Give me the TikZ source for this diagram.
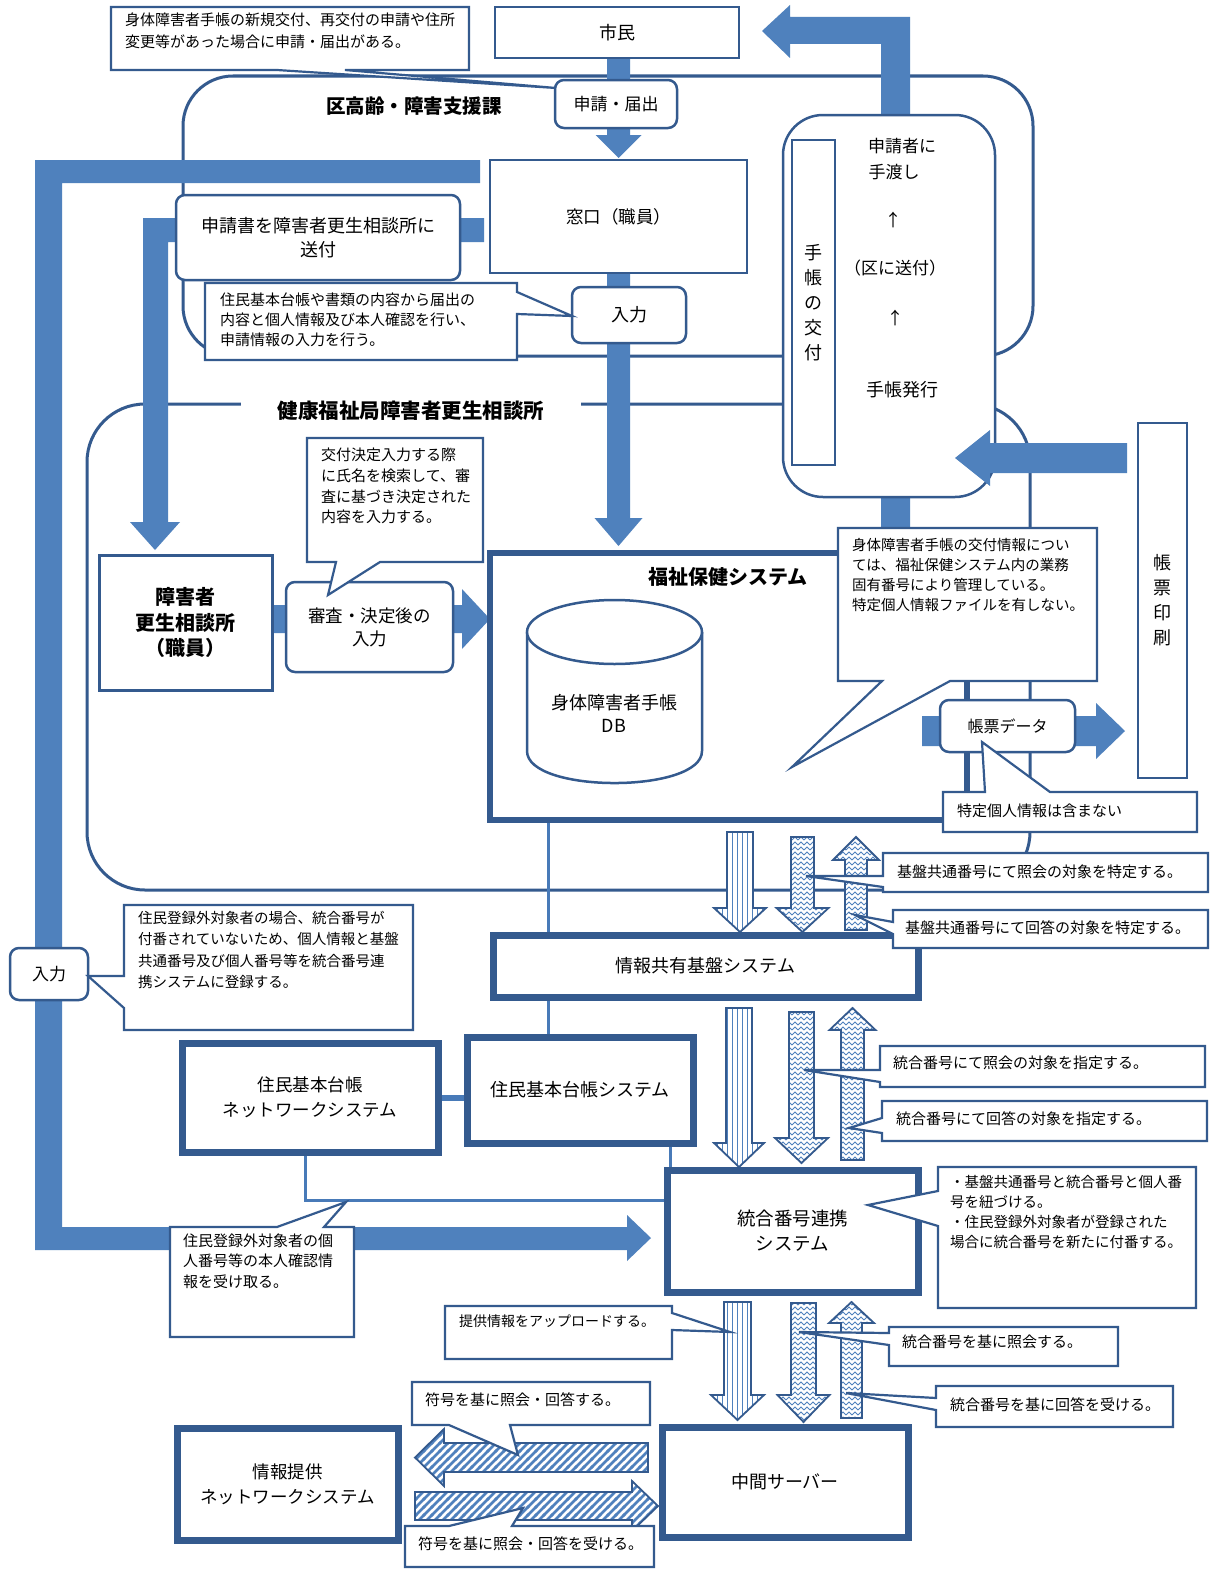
\documentclass[tikz,border=0pt]{standalone}
\usepackage{fontspec}
\setmainfont{Noto Sans CJK JP}
\usetikzlibrary{patterns}
\definecolor{bd}{RGB}{52,90,142}
\definecolor{ab}{RGB}{79,129,189}
\definecolor{ln}{RGB}{72,122,184}
\pgfdeclarepatternformonly{vstripes}{\pgfqpoint{-1pt}{-1pt}}{\pgfqpoint{6pt}{6pt}}{\pgfqpoint{5pt}{5pt}}{\pgfsetlinewidth{1.7pt}\pgfpathmoveto{\pgfqpoint{2.5pt}{-1pt}}\pgfpathlineto{\pgfqpoint{2.5pt}{6pt}}\pgfusepath{stroke}}
\pgfdeclarepatternformonly{dstripes}{\pgfqpoint{-2pt}{-2pt}}{\pgfqpoint{10pt}{10pt}}{\pgfqpoint{8pt}{8pt}}{\pgfsetlinewidth{2.6pt}\pgfpathmoveto{\pgfqpoint{-1pt}{-1pt}}\pgfpathlineto{\pgfqpoint{9pt}{9pt}}\pgfusepath{stroke}}
\pgfdeclarepatternformonly{wavy}{\pgfqpoint{-1pt}{-1pt}}{\pgfqpoint{7pt}{6pt}}{\pgfqpoint{6pt}{5pt}}{\pgfsetlinewidth{0.9pt}\pgfpathmoveto{\pgfqpoint{0pt}{1pt}}\pgfpathlineto{\pgfqpoint{3pt}{4pt}}\pgfpathlineto{\pgfqpoint{6pt}{1pt}}\pgfusepath{stroke}}
\newcommand\fsz[2]{\fontsize{#1}{#2}\selectfont}
% vertical block arrow: style, cx, half shaft, y start, y head base, y tip, half head
\newcommand\arrV[7]{\path[#1] ({#2-#3},#4) -- ({#2+#3},#4) -- ({#2+#3},#5) -- ({#2+#7},#5) -- (#2,#6) -- ({#2-#7},#5) -- ({#2-#3},#5) -- cycle;}
% horizontal block arrow: style, cy, half shaft, x start, x head base, x tip, half head
\newcommand\arrH[7]{\path[#1] (#4,{#2-#3}) -- (#5,{#2-#3}) -- (#5,{#2-#7}) -- (#6,#2) -- (#5,{#2+#7}) -- (#5,{#2+#3}) -- (#4,{#2+#3}) -- cycle;}
% callouts: x1,y1,x2,y2, a, b, tipx, tipy
\newcommand\callB[8]{\draw[co] (#1,#2) -- (#3,#2) -- (#3,#4) -- (#6,#4) -- (#7,#8) -- (#5,#4) -- (#1,#4) -- cycle;}
\newcommand\callT[8]{\draw[co] (#1,#2) -- (#5,#2) -- (#7,#8) -- (#6,#2) -- (#3,#2) -- (#3,#4) -- (#1,#4) -- cycle;}
\newcommand\callL[8]{\draw[co] (#1,#2) -- (#3,#2) -- (#3,#4) -- (#1,#4) -- (#1,#6) -- (#7,#8) -- (#1,#5) -- cycle;}
\newcommand\callR[8]{\draw[co] (#1,#2) -- (#3,#2) -- (#3,#5) -- (#7,#8) -- (#3,#6) -- (#3,#4) -- (#1,#4) -- cycle;}
\tikzset{
 bx/.style={draw=bd, line width=2.5pt, fill=white, align=center, inner sep=0pt, font=\fsz{18}{24}},
 rbx/.style={bx, rounded corners=9pt},
 sys/.style={bx, line width=7pt},
 co/.style={draw=bd, line width=2.2pt, fill=white, line join=miter},
 ct/.style={align=left, inner sep=0pt, anchor=west, font=\fsz{15}{20}},
 sarrow/.style={fill=ab},
 vpat/.style={draw=bd, line width=1.8pt, preaction={fill=white}, pattern=vstripes, pattern color=ab},
 wpat/.style={draw=bd, line width=1.8pt, preaction={fill=white}, pattern=wavy, pattern color=ab},
 dpat/.style={draw=bd, line width=1.8pt, preaction={fill=white}, pattern=dstripes, pattern color=ab},
 kframe/.style={draw=bd, line width=3pt},
 conn/.style={draw=ln, line width=3pt},
 tt/.style={inner sep=0pt, font=\fsz{17}{20}},
}
\begin{document}
\begin{tikzpicture}[x=1pt,y=-1pt]
\useasboundingbox (0,0) rectangle (1210,1571);
\fill[white] (0,0) rectangle (1210,1571);
% department frames
\draw[kframe, rounded corners=50pt] (183,76) rectangle (1033,356);
\draw[kframe, rounded corners=58pt] (87,404) rectangle (1030,890);
% solid arrows behind boxes
\arrV{sarrow}{618.5}{11.5}{58}{135}{158}{23}
\arrV{sarrow}{618.5}{11.5}{273}{518}{546}{24}
\path[sarrow] (480,160) -- (35,160) -- (35,1250) -- (627,1250) -- (627,1261) -- (651,1238) -- (627,1215) -- (627,1227) -- (62,1227) -- (62,183) -- (480,183) -- cycle;
\path[sarrow] (484,218) -- (143,218) -- (143,522) -- (130,522) -- (155,550) -- (180,522) -- (168,522) -- (168,242) -- (484,242) -- cycle;
\path[sarrow] (881,540) -- (881,44) -- (790,44) -- (790,58) -- (762,31) -- (790,5) -- (790,17) -- (910,17) -- (910,540) -- cycle;
\arrH{sarrow}{619}{14}{272}{462}{490}{30}
% boxes
\node[bx, minimum width=244pt, minimum height=51pt] (shimin) at (617,32.5) {市民};
\node[rbx, minimum width=122pt, minimum height=48pt, font=\fsz{17}{20}] (shinsei) at (616,104) {申請・届出};
\node[bx, minimum width=257pt, minimum height=113pt, font=\fsz{17.5}{20}] (madoguchi) at (618.5,216.5) {窓口（職員）};
\node[rbx, minimum width=114pt, minimum height=56pt] (nyu1) at (629,315) {入力};
\node[rbx, minimum width=284pt, minimum height=85pt] (sofu) at (318,237.5) {申請書を障害者更生相談所に\\送付};
\node[bx, rounded corners=40pt, minimum width=212pt, minimum height=382pt] (techo) at (889,306) {};
\node[bx, minimum width=43pt, minimum height=325pt, font=\fsz{18}{25}] (kofu) at (813.5,302.5) {手\\帳\\の\\交\\付};
\node[tt] (t1) at (902,146) {申請者に};
\node[tt] (t2) at (894,172) {手渡し};
\node[tt] (t3) at (893,220) {↑};
\node[tt] (t4) at (895,268) {（区に送付）};
\node[tt] (t5) at (895,318) {↑};
\node[tt, font=\fsz{18}{20}] (t6) at (902,390) {手帳発行};
\node[bx, minimum width=49pt, minimum height=355pt, font=\fsz{18}{25}] (insatsu) at (1162.5,600.5) {帳\\票\\印\\刷};
\node[bx, line width=3pt, minimum width=173pt, minimum height=135pt, font=\bfseries\fsz{20}{25.5}] (shogai) at (185.5,622.5) {障害者\\更生相談所\\（職員）};
\node[rbx, minimum width=167pt, minimum height=90pt, font=\fsz{17.5}{23}] (shinsa) at (369.5,627) {審査・決定後の\\入力};
\node[sys, line width=6pt, minimum width=477pt, minimum height=267pt] (fukushi) at (728.5,686.5) {};
\node[inner sep=0pt, font=\bfseries\fsz{20}{24}] (fktitle) at (728,577) {福祉保健システム};
% database cylinder
\filldraw[fill=white, draw=bd, line width=2.5pt] (527,632) -- (527,751) .. controls (527,793.7) and (702,793.7) .. (702,751) -- (702,632);
\draw[fill=white, draw=bd, line width=2.5pt] (614.5,632) ellipse [x radius=87.5, y radius=32];
\node[inner sep=0pt, align=center, font=\fsz{18}{23}] (db) at (614,713.5) {身体障害者手帳\\DB};
\node[sys, minimum width=425pt, minimum height=62pt] (jokyo) at (705.5,966) {情報共有基盤システム};
\node[rbx, minimum width=78pt, minimum height=52pt, font=\fsz{17}{20}] (nyu2) at (49,974) {入力};
\node[sys, minimum width=256pt, minimum height=109pt, font=\fsz{17.5}{25}] (jukinet) at (310,1097.5) {住民基本台帳\\ネットワークシステム};
\node[sys, minimum width=226pt, minimum height=106pt] (jumin) at (580,1090) {住民基本台帳システム};
\node[sys, minimum width=251pt, minimum height=122pt, font=\fsz{18.5}{25}] (togo) at (792.5,1231) {統合番号連携\\システム};
\node[sys, minimum width=246pt, minimum height=110pt] (chukan) at (785,1482) {中間サーバー};
\node[sys, minimum width=221pt, minimum height=112pt, font=\fsz{17.5}{25}] (jtnet) at (287.5,1484) {情報提供\\ネットワークシステム};
% arrows over boxes
\arrH{sarrow}{458}{15}{1127}{990}{955}{28}
\arrH{sarrow}{731}{15}{922}{1096}{1125}{28}
\node[rbx, minimum width=135pt, minimum height=52pt, font=\fsz{16}{20}] (chodata) at (1007.5,726) {帳票データ};
% thin connectors
\coordinate (cL) at (548,0);
\draw[conn] (fukushi.south -| cL) -- (jokyo.north -| cL);
\draw[conn] (jokyo.south -| cL) -- (jumin.north -| cL);
\draw[conn, line width=6pt] (jukinet.east) -- (jukinet.east -| jumin.west);
\coordinate (cM) at (305,1200);
\draw[conn] (jukinet.south -| cM) |- (togo.west |- cM);
\coordinate (cN) at (670,0);
\draw[conn] (jumin.south -| cN) -- (togo.north -| cN);
% patterned arrows
\arrV{vpat}{740}{13}{832}{908}{932}{26}
\arrV{wpat}{802.5}{11.5}{837}{908}{932}{26}
\arrV{wpat}{856}{11}{930}{860}{837}{23}
\arrV{vpat}{739}{13}{1008}{1143}{1167}{25}
\arrV{wpat}{801.5}{12.5}{1012}{1138}{1163}{26.5}
\arrV{wpat}{852.5}{11.5}{1160}{1030}{1008}{23}
\arrV{vpat}{737.5}{13.5}{1302}{1395}{1420}{26.5}
\arrV{wpat}{803.5}{12.5}{1303}{1395}{1422}{26}
\arrV{wpat}{851.5}{10.5}{1418}{1323}{1302}{22.5}
\arrH{dpat}{1457.5}{14.5}{648}{444}{415}{28.5}
\arrH{dpat}{1506}{14}{415}{632}{658}{25}
% callouts
\callB{111}{7}{469}{70}{277}{345}{556}{88}
\node[ct, font=\fsz{15}{22}] (c1t) at (125,31) {身体障害者手帳の新規交付、再交付の申請や住所\\変更等があった場合に申請・届出がある。};
\callR{205}{283}{517}{360}{292}{314}{572}{316}
\node[ct] (c7t) at (220,320) {住民基本台帳や書類の内容から届出の\\内容と個人情報及び本人確認を行い、\\申請情報の入力を行う。};
\callB{307}{438}{483}{562}{336}{380}{328}{595}
\node[ct, font=\fsz{15}{20.7}] (c12t) at (321,486) {交付決定入力する際\\に氏名を検索して、審\\査に基づき決定された\\内容を入力する。};
\callB{838}{528}{1097}{681}{882}{950}{792}{767}
\node[ct, font=\fsz{14.5}{20}] (c17t) at (852,575) {身体障害者手帳の交付情報につい\\ては、福祉保健システム内の業務\\固有番号により管理している。\\特定個人情報ファイルを有しない。};
\callT{943}{792}{1197}{832}{985}{1050}{982}{742}
\node[ct] (c20t) at (957,811) {特定個人情報は含まない};
\callL{883}{853}{1208}{892}{876}{887}{806}{876}
\node[ct] (c21t) at (897,872) {基盤共通番号にて照会の対象を特定する。};
\callL{893}{910}{1208}{948}{922}{934}{855}{915}
\node[ct] (c22t) at (905,928) {基盤共通番号にて回答の対象を特定する。};
\callL{124}{905}{413}{1030}{976}{1008}{88}{976}
\node[ct, font=\fsz{14.5}{21.3}] (c25t) at (138,950) {住民登録外対象者の場合、統合番号が\\付番されていないため、個人情報と基盤\\共通番号及び個人番号等を統合番号連\\携システムに登録する。};
\callL{880}{1046}{1205}{1087}{1070}{1082}{804}{1070}
\node[ct] (c28t) at (893,1063) {統合番号にて照会の対象を指定する。};
\callL{882}{1101}{1207}{1141}{1118}{1133}{849}{1128}
\node[ct] (c29t) at (896,1119) {統合番号にて回答の対象を指定する。};
\callL{938}{1167}{1196}{1308}{1191}{1226}{868}{1205}
\node[ct, font=\fsz{14.5}{20.3}] (c31t) at (950,1212) {・基盤共通番号と統合番号と個人番\\号を紐づける。\\・住民登録外対象者が登録された\\場合に統合番号を新たに付番する。};
\callT{170}{1227}{354}{1337}{277}{324}{346}{1202}
\node[ct, font=\fsz{15}{20.5}] (c32t) at (183,1261) {住民登録外対象者の個\\人番号等の本人確認情\\報を受け取る。};
\callR{445}{1306}{672}{1359}{1313}{1330}{730}{1332}
\node[ct, font=\fsz{14}{20}] (c33t) at (459,1321) {提供情報をアップロードする。};
\callL{889}{1327}{1118}{1366}{1333}{1345}{799}{1332}
\node[ct] (c34t) at (902,1342) {統合番号を基に照会する。};
\callL{936}{1386}{1173}{1427}{1398}{1410}{846}{1393}
\node[ct] (c35t) at (950,1405) {統合番号を基に回答を受ける。};
\callB{412}{1382}{650}{1425}{449}{510}{518}{1455}
\node[ct] (c36t) at (425,1400) {符号を基に照会・回答する。};
\callT{405}{1526}{654}{1567}{449}{512}{523}{1508}
\node[ct] (c39t) at (418,1544) {符号を基に照会・回答を受ける。};
% titles
\node[inner sep=0pt, font=\bfseries\fsz{19.5}{22}] (kutitle) at (414,106) {区高齢・障害支援課};
\node[fill=white, inner sep=0pt, minimum width=340pt, minimum height=30pt, font=\bfseries\fsz{20.5}{24}] (kftitle) at (411,411) {健康福祉局障害者更生相談所};
\end{tikzpicture}
\end{document}
